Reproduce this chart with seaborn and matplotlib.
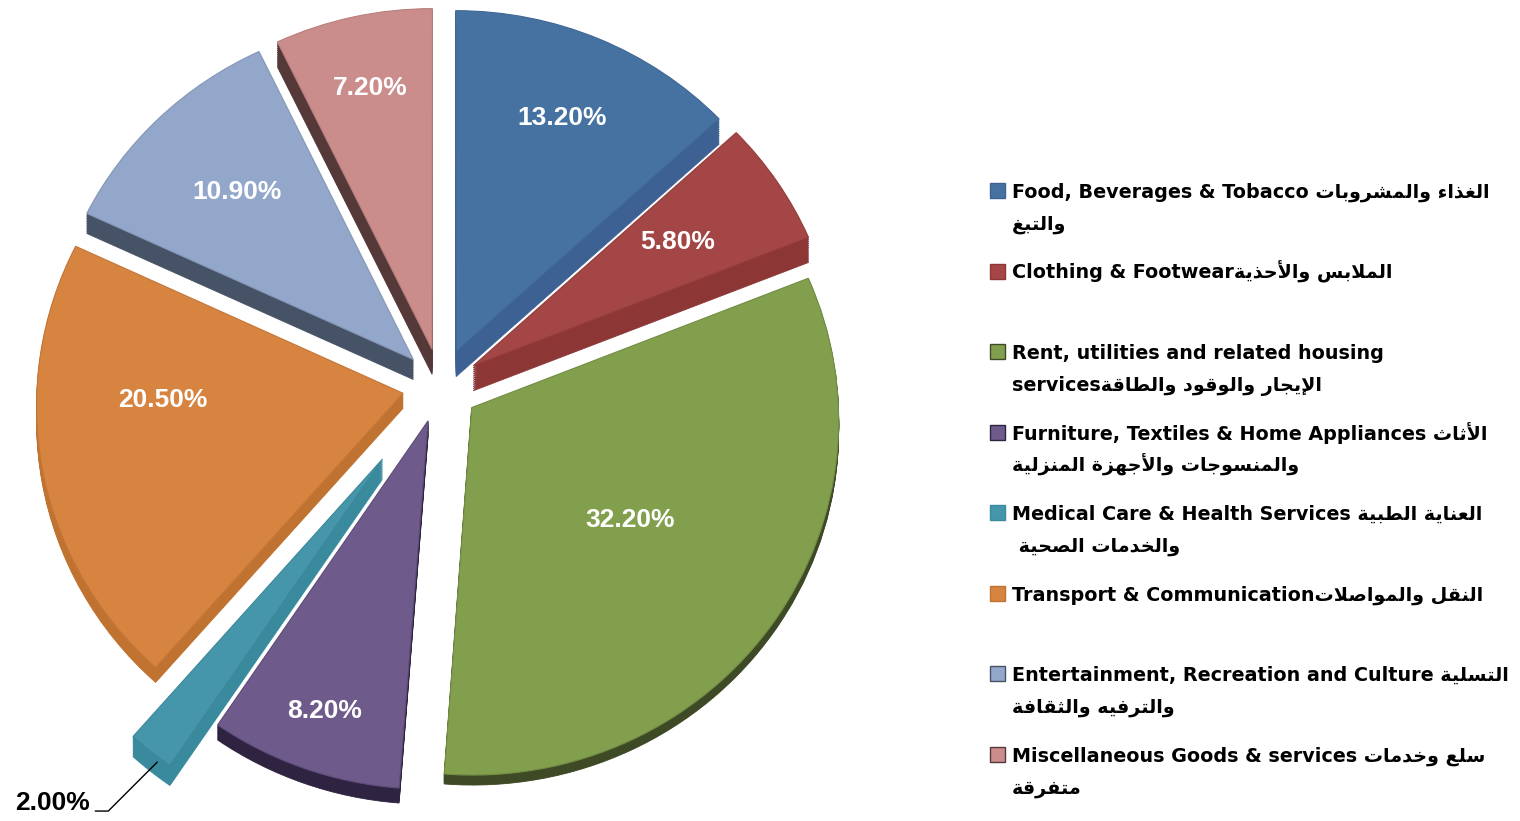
import numpy as np
import matplotlib
matplotlib.use("Agg")
import matplotlib.pyplot as plt
import matplotlib.transforms as mtransforms
from matplotlib.patches import Rectangle
import seaborn as sns

# ---------------- data ----------------
shares = [13.2, 5.8, 32.2, 8.2, 2.0, 20.5, 10.9, 7.2]
pct_labels = ["13.20%", "5.80%", "32.20%", "8.20%", "2.00%", "20.50%", "10.90%", "7.20%"]
legend_labels = [
    "Food, Beverages & Tobacco الغذاء والمشروبات\nوالتبغ",
    "Clothing & Footwearالملابس والأحذية",
    "Rent, utilities and related housing\nservicesالإيجار والوقود والطاقة",
    "Furniture, Textiles & Home Appliances الأثاث\nوالمنسوجات والأجهزة المنزلية",
    "Medical Care & Health Services العناية الطبية\n والخدمات الصحية",
    "Transport & Communicationالنقل والمواصلات",
    "Entertainment, Recreation and Culture التسلية\nوالترفيه والثقافة",
    "Miscellaneous Goods & services سلع وخدمات\nمتفرقة",
]

# ---------------- style ----------------
top_colors = ["#4672A1", "#A34645", "#829F4E", "#6E5A8B", "#4596AA", "#D6843F", "#93A7CB", "#CB8D8C"]
side_colors = ["#3C6192", "#8C3636", "#3E4A26", "#2E2340", "#3A8A9E", "#C07330", "#465265", "#553838"]
edge_colors = ["#3F6694", "#923C3B", "#738E44", "#5F4D7A", "#3C879A", "#C4763A", "#8596B8", "#B77E7D"]
explode_frac = [0.105, 0.105, 0.105, 0.105, 0.26, 0.105, 0.105, 0.105]
depths = [25, 25, 10, 15, 20, 15, 20, 25]
label_r = [0.74, 0.67, 0.53, 0.84, 0.0, 0.655, 0.69, 0.78]
label_dang = [0, 0, 0, 0, 0, -10.4, 0, 0]

W, H = 1520, 821
R = 360.0
PIE_CX, PIE_CY = 440.7, H - 385.5
SX, SY, K = 1.0167, 0.9836, 0.0324 / 360.0
explode = [e * R for e in explode_frac]

sns.set_theme(style="white")
plt.rcParams["font.family"] = ["DejaVu Sans"]


# ---------- minimal Arabic shaping (presentation forms) ----------
_AR = "ءآأؤإئابةتثجحخدذرزسشصضطظعغفقكلمنهوىي"
_NF = [1, 2, 2, 2, 2, 4, 2, 4, 2, 4, 4, 4, 4, 4, 2, 2, 2, 2, 4, 4,
       4, 4, 4, 4, 4, 4, 4, 4, 4, 4, 4, 4, 4, 2, 2, 4]
FORMS = {}
_code = 0xFE80
for ch, nf in zip(_AR, _NF):
    FORMS[ch] = (_code, nf)
    _code += nf
LAMALEF = {"آ": 0xFEF5, "أ": 0xFEF7, "إ": 0xFEF9, "ا": 0xFEFB}


def shape(text):
    out = []
    n = len(text)
    i = 0
    prev_joins = False
    while i < n:
        ch = text[i]
        if ch not in FORMS:
            out.append(ch)
            prev_joins = False
            i += 1
            continue
        nxt = text[i + 1] if i + 1 < n else ""
        if ch == "ل" and nxt in LAMALEF:
            out.append(chr(LAMALEF[nxt] + (1 if prev_joins else 0)))
            prev_joins = False
            i += 2
            continue
        base, nf = FORMS[ch]
        jn = nf == 4 and nxt in FORMS and nxt != "ء"
        if nf == 1:
            form = 0
        elif nf == 2:
            form = 1 if prev_joins else 0
        else:
            form = {(False, False): 0, (True, False): 1,
                    (False, True): 2, (True, True): 3}[(prev_joins, jn)]
        out.append(chr(base + form))
        prev_joins = nf == 4
        i += 1
    return "".join(out)


def visual(line):
    idx = next((k for k, c in enumerate(line) if c in FORMS), None)
    if idx is None:
        return line
    return line[:idx] + shape(line[idx:])[::-1]


# ---------- tilted-disc projection ----------
class TiltProjection(mtransforms.Transform):
    input_dims = 2
    output_dims = 2

    def __init__(self, cx, cy, sx, sy, k):
        super().__init__()
        self.cx, self.cy, self.sx, self.sy, self.k = cx, cy, sx, sy, k

    def transform_non_affine(self, values):
        v = np.asarray(values, dtype=float)
        x, y = v[..., 0], v[..., 1]
        w = 1.0 + self.k * y
        return np.stack([self.cx + self.sx * x / w, self.cy + self.sy * y / w], axis=-1)


fig = plt.figure(figsize=(W / 100, H / 100), dpi=100)
ax = fig.add_axes([0, 0, 1, 1])
proj = TiltProjection(PIE_CX, PIE_CY, SX, SY, K)

# side (depth) layers
n_layers = 12
for layer in range(n_layers, 0, -1):
    frac = layer / n_layers
    wedges, _ = ax.pie(shares, explode=explode, radius=R, center=(0, 0),
                       startangle=90, counterclock=False, colors=side_colors,
                       wedgeprops=dict(linewidth=0.6, zorder=2))
    for i, w in enumerate(wedges):
        w.set_edgecolor(side_colors[i])
        w.set_transform(proj + mtransforms.Affine2D().translate(0, -depths[i] * frac) + ax.transData)

# top faces
wedges, _ = ax.pie(shares, explode=explode, radius=R, center=(0, 0),
                   startangle=90, counterclock=False, colors=sns.color_palette(top_colors),
                   wedgeprops=dict(linewidth=0.8, zorder=3))
for i, w in enumerate(wedges):
    w.set_edgecolor(edge_colors[i])
    w.set_transform(proj + ax.transData)

# percentage labels
fr = np.array(shares) / np.sum(shares)
ends = 90 - 360 * np.cumsum(fr)
starts = ends + 360 * fr
mids_deg = (starts + ends) / 2
mids = np.deg2rad(mids_deg)
for i, m in enumerate(mids):
    if label_r[i] <= 0:
        continue
    ex = explode[i] * np.array([np.cos(m), np.sin(m)])
    a = np.deg2rad(mids_deg[i] + label_dang[i])
    p = ex + label_r[i] * R * np.array([np.cos(a), np.sin(a)])
    ax.text(p[0], p[1], pct_labels[i], transform=proj + ax.transData,
            ha="center", va="center", color="white", fontsize=19, fontweight="bold",
            family="Liberation Sans", zorder=5)

# small slice label with leader line
i = 4
a = np.deg2rad(mids_deg[i] + 1.0)
d = explode[i] + 0.995 * R
anchor_tr = proj + mtransforms.Affine2D().translate(0, -depths[i] * 0.4) + ax.transData
pt = (explode[i] * np.cos(mids[i]) + 0.995 * R * np.cos(a),
      explode[i] * np.sin(mids[i]) + 0.995 * R * np.sin(a))
ax.annotate("", xy=pt, xycoords=anchor_tr,
            xytext=(-62, -49), textcoords="offset pixels",
            arrowprops=dict(arrowstyle="-", color="black", lw=1.0, shrinkA=0, shrinkB=0,
                            connectionstyle="angle,angleA=0,angleB=45,rad=0"), zorder=6)
ax.annotate(pct_labels[i], xy=pt, xycoords=anchor_tr,
            xytext=(-105, -41), textcoords="offset pixels", ha="center", va="center",
            color="black", fontsize=19, fontweight="bold", family="Liberation Sans", zorder=6)

# legend (manual)
for i, lab in enumerate(legend_labels):
    base = 198 + 80.5 * i
    ax.add_patch(Rectangle((990, H - base), 15, 15, facecolor=top_colors[i],
                           edgecolor=side_colors[i], linewidth=1.0, zorder=4))
    for j, line in enumerate(lab.split("\n")):
        ax.text(1012, H - (base + 32 * j), visual(line), ha="left", va="baseline",
                fontsize=13.8, fontweight="bold", color="black",
                family=["DejaVu Sans"], zorder=4)

ax.set_aspect("auto")
ax.set_xlim(0, W)
ax.set_ylim(0, H)
ax.axis("off")
fig.savefig("out.png", dpi=100, facecolor="white")
